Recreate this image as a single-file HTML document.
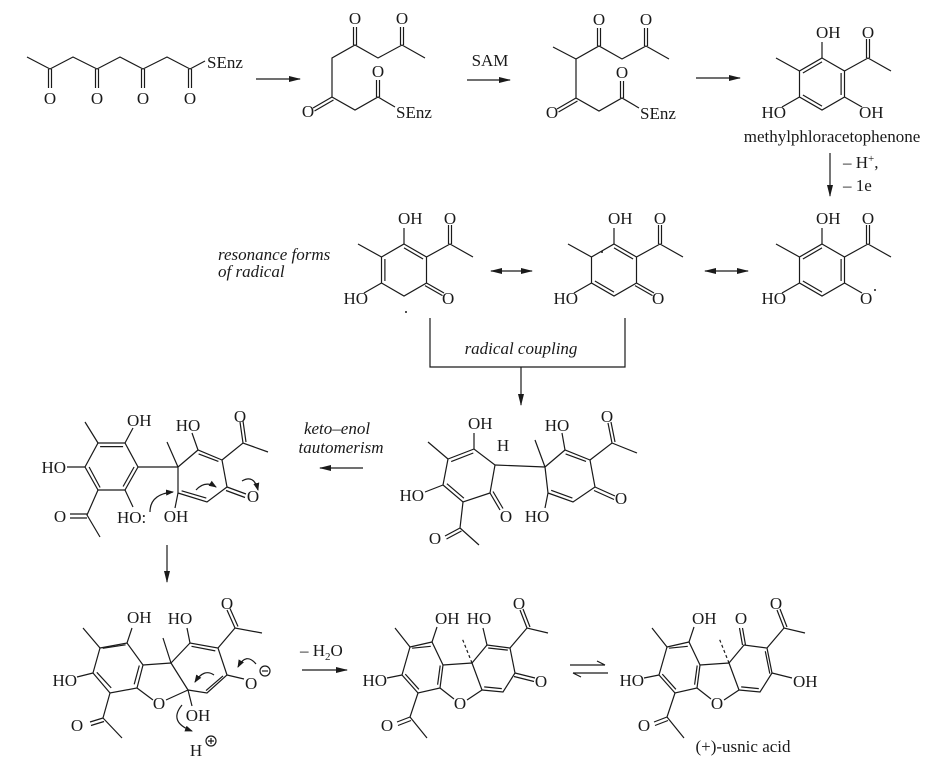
<!DOCTYPE html>
<html><head><meta charset="utf-8"><style>
html,body{margin:0;padding:0;background:#fff;}
svg{display:block;}
text{font-family:"Liberation Serif",serif;font-size:17px;fill:#1a1a1a;}
.i{font-style:italic;}
</style></head><body>
<svg width="939" height="775" viewBox="0 0 939 775" xmlns="http://www.w3.org/2000/svg">
<defs>
<marker id="ah" markerWidth="12" markerHeight="8" refX="11" refY="4" orient="auto" markerUnits="userSpaceOnUse"><path d="M0,1 L12,4 L0,7 Z" fill="#1a1a1a"/></marker>
<marker id="ahs" markerWidth="8" markerHeight="6" refX="7" refY="3" orient="auto" markerUnits="userSpaceOnUse"><path d="M0,0 L8,3 L0,6 Z" fill="#1a1a1a"/></marker>
<marker id="ahb" markerWidth="12" markerHeight="8" refX="1" refY="4" orient="auto" markerUnits="userSpaceOnUse"><path d="M12,1 L0,4 L12,7 Z" fill="#1a1a1a"/></marker>
<g id="ap">
 <polygon points="0,-26 22.5,-13 22.5,13 0,26 -22.5,13 -22.5,-13" fill="none"/>
 <path d="M0,-26L0,-42 M-22.5,-13L-46,-26 M22.5,-13L46,-26 L69,-13 M44.5,-26L44.5,-45 M47.5,-26L47.5,-45 M-22.5,13L-40,23"/>
 <text x="-6" y="-46" stroke="none">OH</text>
 <text x="46" y="-46" text-anchor="middle" stroke="none">O</text>
 <text x="-36" y="34" text-anchor="end" stroke="none">HO</text>
</g>
<g id="dbf">
 <polygon points="410,647 432,642 443,665 440,688 418,693 402,675" fill="none"/>
 <path d="M412.1,648.2L430.8,646.3 M440.2,665.5L437.6,684.7 M405.3,674.1L418.9,689.3"/>
 <path d="M443,665L472,663 M440,688L454,699 M467,700L482,690 M472,663L482,690"/>
 <polyline points="472,663 487,645 510,648 515,673 503,692 482,690" fill="none"/>
 <path d="M501.8,688.6L484.2,686.9"/>
 <path d="M410,647L395,628 M432,642L437,627 M402,675L387,678 M418,693L410,717 L427,738 M410,717L397,722 M411,720.5L398,725.5 M510,648L527,628 L548,633 M527,628L520,610 M530,627L523,609"/>
 <path d="M472,663L462,638" stroke-dasharray="3,2.5"/>
 <text x="435" y="624" stroke="none">OH</text>
 <text x="387" y="686" text-anchor="end" stroke="none">HO</text>
 <text x="387" y="731" text-anchor="middle" stroke="none">O</text>
 <text x="460" y="709" text-anchor="middle" stroke="none">O</text>
 <text x="519" y="609" text-anchor="middle" stroke="none">O</text>
</g>
</defs>
<g stroke="#1a1a1a" stroke-width="1.2" fill="none">
<polyline points="27,57 50,69 73,57 97,69 120,57 143,69 167,57 190,69 205,61"/>
<path d="M48.5,69V88 M51.5,69V88 M95.5,69V88 M98.5,69V88 M141.5,69V88 M144.5,69V88 M188.5,69V88 M191.5,69V88"/>
<text x="50" y="104" text-anchor="middle" stroke="none">O</text>
<text x="97" y="104" text-anchor="middle" stroke="none">O</text>
<text x="143" y="104" text-anchor="middle" stroke="none">O</text>
<text x="190" y="104" text-anchor="middle" stroke="none">O</text>
<text x="207" y="68" stroke="none">SEnz</text>
<line x1="256" y1="79" x2="300" y2="79" marker-end="url(#ah)"/>
<g id="m2">
<polyline points="425,58 402,45 378,58 355,45 332,58 332,97 355,110 378,97 395,107"/>
<path d="M353.5,45V27 M356.5,45V27 M400.5,45V27 M403.5,45V27 M332,97L313,108 M333.5,100L314.5,111 M376.5,97V80 M379.5,97V80"/>
<text x="355" y="24" text-anchor="middle" stroke="none">O</text>
<text x="402" y="24" text-anchor="middle" stroke="none">O</text>
<text x="308" y="117" text-anchor="middle" stroke="none">O</text>
<text x="378" y="77" text-anchor="middle" stroke="none">O</text>
<text x="396" y="118" stroke="none">SEnz</text>
</g>
<line x1="467" y1="80" x2="510" y2="80" marker-end="url(#ah)"/>
<text x="490" y="66" text-anchor="middle" stroke="none">SAM</text>
<use href="#m2" transform="translate(244,1)"/>
<line x1="576" y1="59" x2="553" y2="47"/>
<line x1="696" y1="78" x2="740" y2="78" marker-end="url(#ah)"/>
<g transform="translate(822,84)">
<use href="#ap"/>
<path d="M-19.1,-11L0,-22.1 M19.1,-11L19.1,11 M0,22.1L-19.1,11 M22.5,13L40,23"/>
<text x="37" y="34" stroke="none">OH</text>
</g>
<text x="832" y="142" text-anchor="middle" stroke="none">methylphloracetophenone</text>
<line x1="830" y1="153" x2="830" y2="196" marker-end="url(#ah)"/>
<text x="843" y="168" stroke="none">– H<tspan dy="-6" font-size="11">+</tspan><tspan dy="6">,</tspan></text>
<text x="843" y="191" stroke="none">– 1e</text>
<text x="218" y="260" class="i" stroke="none">resonance forms</text>
<text x="218" y="277" class="i" stroke="none">of radical</text>
<g transform="translate(404,270)">
<use href="#ap"/>
<path d="M0,-22.1L19.1,-11 M-19.1,-11L-19.1,11 M22.5,13L40,23 M21,15.6L38.5,25.6"/>
<text x="38" y="34" stroke="none">O</text>
<circle cx="2" cy="42" r="1" fill="#1a1a1a" stroke="none"/>
</g>
<line x1="491" y1="271" x2="532" y2="271" marker-end="url(#ah)" marker-start="url(#ahb)"/>
<g transform="translate(614,270)">
<use href="#ap"/>
<path d="M0,-22.1L19.1,-11 M0,22.1L-19.1,11 M22.5,13L40,23 M21,15.6L38.5,25.6"/>
<text x="38" y="34" stroke="none">O</text>
<circle cx="-12" cy="-18" r="1" fill="#1a1a1a" stroke="none"/>
</g>
<line x1="705" y1="271" x2="748" y2="271" marker-end="url(#ah)" marker-start="url(#ahb)"/>
<g transform="translate(822,270)">
<use href="#ap"/>
<path d="M-19.1,-11L0,-22.1 M19.1,-11L19.1,11 M0,22.1L-19.1,11 M22.5,13L40,23"/>
<text x="38" y="34" stroke="none">O</text>
<circle cx="53" cy="20" r="1" fill="#1a1a1a" stroke="none"/>
</g>
<path d="M430,318V367H625V318"/>
<line x1="521" y1="367" x2="521" y2="405" marker-end="url(#ah)"/>
<text x="521" y="354" text-anchor="middle" class="i" stroke="none">radical coupling</text>
<polygon points="448,459 474,449 495,465 490,493 463,502 443,485"/>
<path d="M451.2,461.6L473.3,453 M446.9,483.7L463.9,498.2"/>
<path d="M474,449V433 M448,459L428,442 M443,485L425,492 M463,502L460,528 L479,545 M460,528L445,536 M461.5,531L446.5,539 M490,493L500,510 M493,491.5L503,508.5 M495,465L545,467"/>
<text x="468" y="429" stroke="none">OH</text>
<text x="503" y="451" text-anchor="middle" stroke="none">H</text>
<text x="424" y="501" text-anchor="end" stroke="none">HO</text>
<text x="435" y="544" text-anchor="middle" stroke="none">O</text>
<text x="506" y="522" text-anchor="middle" stroke="none">O</text>
<polygon points="545,467 565,450 590,460 595,487 573,502 548,493"/>
<path d="M565.6,453.9L586,461.4 M572.4,498.1L551.2,490.3"/>
<path d="M545,467L535,440 M565,450L562,433 M590,460L612,443 L637,453 M612,443L608,423 M615,442L611,422 M595,487L615,496 M594,490.5L614,499.5 M548,493L545,508"/>
<text x="557" y="431" text-anchor="middle" stroke="none">HO</text>
<text x="607" y="422" text-anchor="middle" stroke="none">O</text>
<text x="621" y="504" text-anchor="middle" stroke="none">O</text>
<text x="537" y="522" text-anchor="middle" stroke="none">HO</text>
<line x1="363" y1="468" x2="320" y2="468" marker-end="url(#ah)"/>
<text x="337" y="434" text-anchor="middle" class="i" stroke="none">keto–enol</text>
<text x="341" y="453" text-anchor="middle" class="i" stroke="none">tautomerism</text>
<polygon points="98,443 125,443 138,467 125,490 98,490 85,467"/>
<path d="M100.1,446.6L123.1,446.6 M134.1,467L123.1,486.5 M100.1,487.5L89.1,467"/>
<path d="M98,443L85,422 M125,443L133,428 M85,467L67,467 M98,490L87,515 L100,537 M87,514L70,514 M87,518L70,518 M125,490L133,507 M138,467L178,467"/>
<text x="127" y="426" stroke="none">OH</text>
<text x="66" y="473" text-anchor="end" stroke="none">HO</text>
<text x="60" y="522" text-anchor="middle" stroke="none">O</text>
<text x="117" y="523" stroke="none">HO:</text>
<polygon points="178,467 198,450 222,460 227,487 207,502 178,493"/>
<path d="M198.6,453.9L218.4,461.4 M206.3,498.1L181.6,490.8"/>
<path d="M178,467L167,442 M198,450L192,433 M222,460L243,443 L268,452 M243,443L240,422 M246,442L243,421 M227,487L246,494 M226,490.5L245,497.5 M178,493L175,508"/>
<text x="188" y="431" text-anchor="middle" stroke="none">HO</text>
<text x="240" y="422" text-anchor="middle" stroke="none">O</text>
<text x="253" y="502" text-anchor="middle" stroke="none">O</text>
<text x="176" y="522" text-anchor="middle" stroke="none">OH</text>
<path d="M150,512 Q150,494 173,492" marker-end="url(#ahs)"/>
<path d="M196,490 Q205,480 216,487" marker-end="url(#ahs)"/>
<path d="M242,481 Q254,474 258,490" marker-end="url(#ahs)"/>
<line x1="167" y1="545" x2="167" y2="582" marker-end="url(#ah)"/>
<polygon points="100,648 127,643 143,665 137,688 110,693 93,673"/>
<path d="M102.7,648.3L125.6,644.8 M139.3,665.5L134.2,684.3 M96.8,672.3L111.2,687.9"/>
<path d="M143,665L171,663 M137,688L153,700 M166,700L188,690 M171,663L188,690"/>
<polyline points="171,663 190,643 218,648 227,675 207,693 188,690"/>
<path d="M191.5,646.3L215.3,650.9 M223,675.9L206,690.6"/>
<path d="M100,648L83,628 M127,643L132,628 M93,673L77,677 M110,693L103,718 L122,738 M103,718L90,722 M104,721.5L91,725.5 M171,663L163,638 M190,643L187,628 M218,648L235,628 L262,633 M235,628L227,610 M238,626.5L230,608.5 M227,675L244,679 M188,690L192,706"/>
<text x="127" y="623" stroke="none">OH</text>
<text x="77" y="686" text-anchor="end" stroke="none">HO</text>
<text x="77" y="731" text-anchor="middle" stroke="none">O</text>
<text x="159" y="709" text-anchor="middle" stroke="none">O</text>
<text x="180" y="624" text-anchor="middle" stroke="none">HO</text>
<text x="227" y="609" text-anchor="middle" stroke="none">O</text>
<text x="245" y="689" stroke="none">O</text>
<circle cx="265" cy="671" r="5"/><path d="M262,671H268"/>
<text x="198" y="721" text-anchor="middle" stroke="none">OH</text>
<text x="196" y="756" text-anchor="middle" stroke="none">H</text>
<circle cx="211" cy="741" r="5"/><path d="M208,741H214 M211,738V744"/>
<path d="M256,664 Q246,652 238,667" marker-end="url(#ahs)"/>
<path d="M214,675 Q204,668 195,682" marker-end="url(#ahs)"/>
<path d="M182,705 Q168,722 192,731" marker-end="url(#ahs)"/>
<text x="300" y="656" stroke="none">– H<tspan dy="4" font-size="11">2</tspan><tspan dy="-4">O</tspan></text>
<line x1="302" y1="670" x2="347" y2="670" marker-end="url(#ah)"/>
<use href="#dbf"/>
<path d="M487,645L483,628 M488.2,648L507.8,650.1 M515,673L535,678 M514,676.5L534,681.5"/>
<text x="479" y="624" text-anchor="middle" stroke="none">HO</text>
<text x="541" y="687" text-anchor="middle" stroke="none">O</text>
<path d="M570,665H605 M597,661L605,665 M573,673H608 M581,677L573,673"/>
<use href="#dbf" transform="translate(257,0)"/>
<g transform="translate(257,0)">
<path d="M485.5,645L482.5,628 M488.5,645L485.5,628 M508.3,651.3L512.8,673.6 M515,673L535,678"/>
<text x="484" y="624" text-anchor="middle" stroke="none">O</text>
<text x="536" y="687" stroke="none">OH</text>
</g>
<text x="743" y="752" text-anchor="middle" stroke="none">(+)-usnic acid</text>
</g>
</svg>
</body></html>
